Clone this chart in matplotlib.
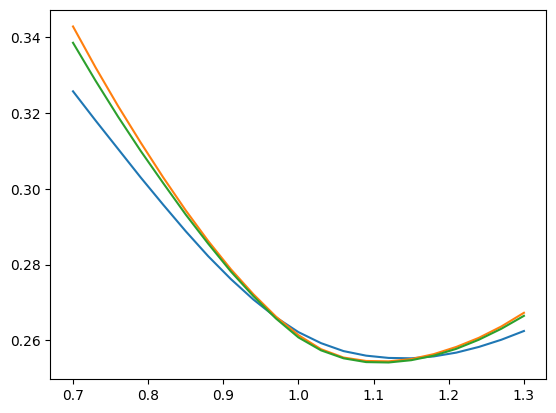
import matplotlib
matplotlib.use("Agg")
import matplotlib.pyplot as plt

# x values
x = [0.70, 0.73, 0.76, 0.79, 0.82, 0.85, 0.88, 0.91, 0.94, 0.97, 1.00,
     1.03, 1.06, 1.09, 1.12, 1.15, 1.18, 1.21, 1.24, 1.27, 1.30]

blue = [0.3257, 0.3180, 0.3105, 0.3030, 0.2958, 0.2888, 0.2822, 0.2762,
        0.2708, 0.2661, 0.2622, 0.2593, 0.2572, 0.2560, 0.2554, 0.2553,
        0.2558, 0.2568, 0.2583, 0.2602, 0.2625]

orange = [0.3428, 0.3320, 0.3218, 0.3122, 0.3030, 0.2943, 0.2862, 0.2788,
          0.2722, 0.2663, 0.2614, 0.2577, 0.2555, 0.2546, 0.2545, 0.2551,
          0.2564, 0.2583, 0.2607, 0.2637, 0.2673]

green = [0.3385, 0.3285, 0.3190, 0.3100, 0.3015, 0.2932, 0.2855, 0.2782,
         0.2717, 0.2658, 0.2608, 0.2574, 0.2553, 0.2543, 0.2542, 0.2548,
         0.2560, 0.2578, 0.2602, 0.2631, 0.2665]

fig, ax = plt.subplots(figsize=(6.4, 4.8), dpi=100)
ax.plot(x, blue)
ax.plot(x, orange)
ax.plot(x, green)

fig.savefig("out.png", dpi=100, bbox_inches="tight")
